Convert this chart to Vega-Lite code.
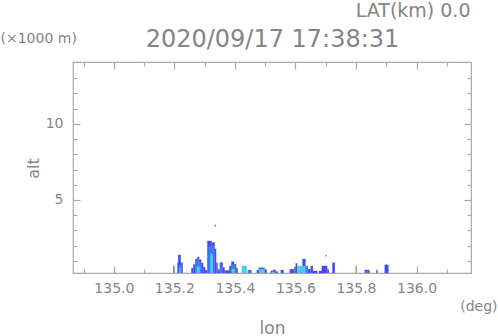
{
  "$schema": "https://vega.github.io/schema/vega-lite/v6.json",
  "width": 398,
  "height": 211,
  "autosize": {"type": "none"},
  "padding": {"left": 73, "top": 62, "right": 27, "bottom": 63},
  "background": "white",
  "config": {
    "view": {"stroke": "#a8a8a8", "strokeWidth": 1.2},
    "axis": {"domain": false, "grid": false, "tickColor": "#a8a8a8", "tickWidth": 1.2, "labelColor": "#858585", "titleColor": "#858585", "labelFont": "DejaVu Sans", "titleFont": "DejaVu Sans", "titleFontWeight": "normal"}
  },
  "data": {"values": [
    {"lon0": 135.1955, "lon1": 135.1995, "alt0": 0.2, "alt1": 0.671, "z": "g"},
    {"lon0": 135.2096, "lon1": 135.2277, "alt0": 0.2, "alt1": 0.888, "z": "b1"},
    {"lon0": 135.2122, "lon1": 135.2211, "alt0": 0.2, "alt1": 1.395, "z": "b1"},
    {"lon0": 135.2145, "lon1": 135.2244, "alt0": 0.2, "alt1": 0.737, "z": "b2"},
    {"lon0": 135.2160, "lon1": 135.2211, "alt0": 0.2, "alt1": 0.55, "z": "c"},
    {"lon0": 135.2558, "lon1": 135.2624, "alt0": 0.2, "alt1": 0.539, "z": "b1"},
    {"lon0": 135.2624, "lon1": 135.2690, "alt0": 0.2, "alt1": 0.770, "z": "b1"},
    {"lon0": 135.2690, "lon1": 135.2756, "alt0": 0.2, "alt1": 1.132, "z": "b1"},
    {"lon0": 135.2756, "lon1": 135.2822, "alt0": 0.2, "alt1": 1.263, "z": "b1"},
    {"lon0": 135.2822, "lon1": 135.2888, "alt0": 0.2, "alt1": 1.099, "z": "b1"},
    {"lon0": 135.2888, "lon1": 135.2954, "alt0": 0.2, "alt1": 0.868, "z": "b1"},
    {"lon0": 135.2954, "lon1": 135.3020, "alt0": 0.2, "alt1": 0.605, "z": "b1"},
    {"lon0": 135.3020, "lon1": 135.3086, "alt0": 0.2, "alt1": 0.375, "z": "b1"},
    {"lon0": 135.2690, "lon1": 135.2888, "alt0": 0.2, "alt1": 0.836, "z": "b2"},
    {"lon0": 135.2706, "lon1": 135.2838, "alt0": 0.2, "alt1": 1.033, "z": "b2"},
    {"lon0": 135.2739, "lon1": 135.2838, "alt0": 0.2, "alt1": 0.638, "z": "c"},
    {"lon0": 135.3086, "lon1": 135.3234, "alt0": 0.2, "alt1": 2.316, "z": "b1"},
    {"lon0": 135.3234, "lon1": 135.3333, "alt0": 0.2, "alt1": 2.217, "z": "b1"},
    {"lon0": 135.3333, "lon1": 135.3383, "alt0": 0.2, "alt1": 1.789, "z": "b1"},
    {"lon0": 135.3383, "lon1": 135.3432, "alt0": 0.2, "alt1": 0.868, "z": "b1"},
    {"lon0": 135.3119, "lon1": 135.3317, "alt0": 0.2, "alt1": 1.987, "z": "b2"},
    {"lon0": 135.3185, "lon1": 135.3267, "alt0": 0.2, "alt1": 1.461, "z": "c"},
    {"lon0": 135.3333, "lon1": 135.3366, "alt0": 3.24, "alt1": 3.37, "z": "b1"},
    {"lon0": 135.3432, "lon1": 135.3498, "alt0": 0.2, "alt1": 0.441, "z": "b1"},
    {"lon0": 135.3498, "lon1": 135.3597, "alt0": 0.2, "alt1": 0.901, "z": "b1"},
    {"lon0": 135.3597, "lon1": 135.3663, "alt0": 0.2, "alt1": 0.572, "z": "b1"},
    {"lon0": 135.3663, "lon1": 135.3828, "alt0": 0.2, "alt1": 0.375, "z": "b1"},
    {"lon0": 135.3515, "lon1": 135.3581, "alt0": 0.2, "alt1": 0.671, "z": "b2"},
    {"lon0": 135.3812, "lon1": 135.3878, "alt0": 0.2, "alt1": 0.671, "z": "b1"},
    {"lon0": 135.3878, "lon1": 135.3977, "alt0": 0.2, "alt1": 0.954, "z": "b1"},
    {"lon0": 135.3977, "lon1": 135.4043, "alt0": 0.2, "alt1": 0.803, "z": "b1"},
    {"lon0": 135.4043, "lon1": 135.4092, "alt0": 0.2, "alt1": 0.539, "z": "b1"},
    {"lon0": 135.3861, "lon1": 135.4026, "alt0": 0.2, "alt1": 0.737, "z": "b2"},
    {"lon0": 135.3894, "lon1": 135.3993, "alt0": 0.2, "alt1": 0.474, "z": "gr"},
    {"lon0": 135.4224, "lon1": 135.4389, "alt0": 0.2, "alt1": 0.671, "z": "c"},
    {"lon0": 135.4422, "lon1": 135.4554, "alt0": 0.2, "alt1": 0.408, "z": "b2"},
    {"lon0": 135.4719, "lon1": 135.4785, "alt0": 0.2, "alt1": 0.408, "z": "b1"},
    {"lon0": 135.4785, "lon1": 135.4983, "alt0": 0.2, "alt1": 0.559, "z": "b1"},
    {"lon0": 135.4983, "lon1": 135.5050, "alt0": 0.2, "alt1": 0.441, "z": "b1"},
    {"lon0": 135.4802, "lon1": 135.4983, "alt0": 0.2, "alt1": 0.474, "z": "c"},
    {"lon0": 135.4851, "lon1": 135.4950, "alt0": 0.2, "alt1": 0.375, "z": "gr"},
    {"lon0": 135.4884, "lon1": 135.4917, "alt0": 0.2, "alt1": 0.309, "z": "y"},
    {"lon0": 135.5182, "lon1": 135.5248, "alt0": 0.2, "alt1": 0.342, "z": "b1"},
    {"lon0": 135.5248, "lon1": 135.5347, "alt0": 0.2, "alt1": 0.408, "z": "b1"},
    {"lon0": 135.5347, "lon1": 135.5413, "alt0": 0.2, "alt1": 0.309, "z": "b1"},
    {"lon0": 135.5215, "lon1": 135.5314, "alt0": 0.2, "alt1": 0.276, "z": "c"},
    {"lon0": 135.5512, "lon1": 135.5611, "alt0": 0.2, "alt1": 0.408, "z": "b1"},
    {"lon0": 135.5809, "lon1": 135.5950, "alt0": 0.2, "alt1": 0.454, "z": "b1"},
    {"lon0": 135.5950, "lon1": 135.6007, "alt0": 0.2, "alt1": 0.586, "z": "b1"},
    {"lon0": 135.5960, "lon1": 135.5990, "alt0": 0.2, "alt1": 0.586, "z": "g"},
    {"lon0": 135.6007, "lon1": 135.6063, "alt0": 0.2, "alt1": 0.849, "z": "b1"},
    {"lon0": 135.6063, "lon1": 135.6228, "alt0": 0.2, "alt1": 0.671, "z": "c"},
    {"lon0": 135.6228, "lon1": 135.6337, "alt0": 0.2, "alt1": 1.132, "z": "b1"},
    {"lon0": 135.6228, "lon1": 135.6337, "alt0": 0.2, "alt1": 0.671, "z": "c"},
    {"lon0": 135.6337, "lon1": 135.6413, "alt0": 0.2, "alt1": 0.671, "z": "b2"},
    {"lon0": 135.6413, "lon1": 135.6502, "alt0": 0.2, "alt1": 0.454, "z": "b1"},
    {"lon0": 135.6502, "lon1": 135.6578, "alt0": 0.2, "alt1": 0.671, "z": "b1"},
    {"lon0": 135.6578, "lon1": 135.6723, "alt0": 0.2, "alt1": 0.342, "z": "b1"},
    {"lon0": 135.6776, "lon1": 135.6888, "alt0": 0.2, "alt1": 0.342, "z": "b1"},
    {"lon0": 135.6865, "lon1": 135.7053, "alt0": 0.2, "alt1": 0.671, "z": "b1"},
    {"lon0": 135.7053, "lon1": 135.7106, "alt0": 0.2, "alt1": 0.454, "z": "b1"},
    {"lon0": 135.6997, "lon1": 135.7030, "alt0": 1.283, "alt1": 1.395, "z": "b1"},
    {"lon0": 135.7218, "lon1": 135.7304, "alt0": 0.2, "alt1": 0.888, "z": "b1"},
    {"lon0": 135.7987, "lon1": 135.8013, "alt0": 0.2, "alt1": 0.671, "z": "g"},
    {"lon0": 135.8284, "lon1": 135.8449, "alt0": 0.2, "alt1": 0.408, "z": "b1"},
    {"lon0": 135.8320, "lon1": 135.8410, "alt0": 0.2, "alt1": 0.35, "z": "b2"},
    {"lon0": 135.8670, "lon1": 135.8713, "alt0": 0.2, "alt1": 0.408, "z": "b1"},
    {"lon0": 135.8944, "lon1": 135.9076, "alt0": 0.2, "alt1": 0.737, "z": "b1"},
    {"lon0": 135.8993, "lon1": 135.9026, "alt0": 0.2, "alt1": 0.77, "z": "b1"}
  ]},
  "layer": [
    {
      "mark": {"type": "rect"},
      "encoding": {
        "x": {"field": "lon0", "type": "quantitative", "scale": {"domain": [134.865, 136.18], "nice": false, "zero": false},
          "axis": {"orient": "bottom", "values": [135.0, 135.2, 135.4, 135.6, 135.8, 136.0], "format": ".1f", "tickSize": -7, "labelPadding": 15, "labelFontSize": 14, "title": "(deg)", "titleFontSize": 14, "titleX": 424, "titleY": 37, "titleAlign": "right", "titleBaseline": "alphabetic", "titleAngle": 0}},
        "x2": {"field": "lon1"},
        "y": {"field": "alt0", "type": "quantitative", "scale": {"domain": [0.2, 14.07], "nice": false, "zero": false},
          "axis": {"orient": "left", "values": [5, 10], "tickSize": -7, "labelPadding": 17, "labelFontSize": 14, "title": "(×1000 m)", "titleFontSize": 14, "titleAngle": 0, "titleAlign": "left", "titleX": -73, "titleY": -20, "titleBaseline": "alphabetic"}},
        "y2": {"field": "alt1"},
        "color": {"field": "z", "type": "nominal", "legend": null,
          "scale": {"domain": ["g", "b1", "b2", "c", "gr", "y"], "range": ["#8c8c8c", "#4848f2", "#3c7cf2", "#40d0f0", "#40e090", "#b4e040"]}}
      }
    },
    {
      "mark": {"type": "point", "opacity": 0},
      "encoding": {
        "x": {"field": "lon0", "type": "quantitative", "scale": {"domain": [134.865, 136.18], "nice": false, "zero": false},
          "axis": {"orient": "bottom", "values": [134.9, 135.1, 135.3, 135.5, 135.7, 135.9, 136.1], "tickSize": -4, "labels": false, "title": "lon", "titleFontSize": 17, "titleX": 199, "titleY": 60, "titleAlign": "center", "titleBaseline": "alphabetic", "titleAngle": 0}},
        "y": {"field": "alt0", "type": "quantitative", "scale": {"domain": [0.2, 14.07], "nice": false, "zero": false},
          "axis": {"orient": "left", "values": [1, 2, 3, 4, 6, 7, 8, 9, 11, 12, 13], "tickSize": -4, "labels": false, "title": "alt", "titleFontSize": 16, "titleAngle": -90, "titleX": -40, "titleY": 106, "titleAlign": "center", "titleBaseline": "middle"}}
      }
    },
    {
      "mark": {"type": "point", "opacity": 0},
      "encoding": {
        "x": {"field": "lon0", "type": "quantitative", "scale": {"domain": [134.865, 136.18], "nice": false, "zero": false},
          "axis": {"orient": "top", "values": [135.0, 135.2, 135.4, 135.6, 135.8, 136.0], "tickSize": -7, "labels": false, "title": "LAT(km) 0.0", "titleFontSize": 19, "titleX": 397, "titleY": -46, "titleAlign": "right", "titleBaseline": "alphabetic", "titleAngle": 0}},
        "y": {"field": "alt0", "type": "quantitative", "scale": {"domain": [0.2, 14.07], "nice": false, "zero": false},
          "axis": {"orient": "right", "values": [5, 10], "tickSize": -7, "labels": false, "title": null}}
      }
    },
    {
      "mark": {"type": "point", "opacity": 0},
      "encoding": {
        "x": {"field": "lon0", "type": "quantitative", "scale": {"domain": [134.865, 136.18], "nice": false, "zero": false},
          "axis": {"orient": "top", "values": [134.9, 135.1, 135.3, 135.5, 135.7, 135.9, 136.1], "tickSize": -4, "labels": false, "title": "2020/09/17 17:38:31", "titleFontSize": 24, "titleX": 199, "titleY": -16, "titleAlign": "center", "titleBaseline": "alphabetic", "titleAngle": 0}},
        "y": {"field": "alt0", "type": "quantitative", "scale": {"domain": [0.2, 14.07], "nice": false, "zero": false},
          "axis": {"orient": "right", "values": [1, 2, 3, 4, 6, 7, 8, 9, 11, 12, 13], "tickSize": -4, "labels": false, "title": null}}
      }
    }
  ],
  "resolve": {"axis": {"x": "independent", "y": "independent"}}
}
